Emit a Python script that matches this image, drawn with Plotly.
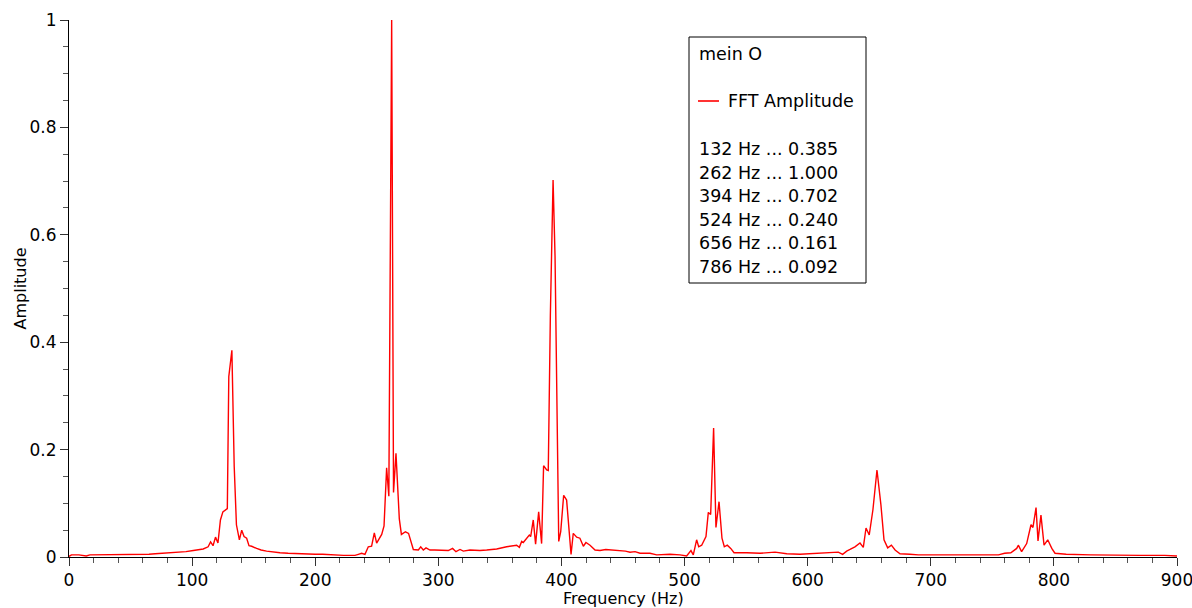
import plotly.graph_objects as go

# ---- data ----
freq_hz = [0, 2, 8, 14, 17, 30, 40, 50, 55, 58, 65, 70, 77, 85, 90, 95, 101, 105, 109, 113,
           115, 117, 119, 121, 123, 125, 127.5, 128.6, 129.8, 132.3, 134.2, 136, 138.4, 140.3,
           142.2, 144.3, 146.2, 148.4, 152.4, 156, 160.5, 166, 171.4, 178, 185, 192, 200, 206,
           212, 218, 223, 228, 232.3, 235, 237.7, 240.4, 243.1, 245.8, 248, 249.9, 252, 254,
           255.9, 258, 259.8, 262.1, 263.6, 265.6, 268.3, 270, 273.3, 275.8, 279.7, 283.8,
           285.7, 287.8, 290, 293.2, 297, 301.4, 308.1, 311.6, 314.3, 317.6, 320.3, 325.7,
           333.8, 339.3, 347.4, 355.5, 360.9, 363.6, 365.8, 367.7, 369, 371.8, 373.9, 375,
           377.1, 379, 381.5, 383.9, 385.5, 388, 389.3, 391, 393.2, 394.8, 396.1, 397.8, 399.4,
           401.8, 404.2, 405.9, 407.8, 409.6, 412.4, 415, 417.8, 419.9, 423.2, 427.3, 431.3,
           436, 442.1, 447.6, 452, 455.7, 459.8, 463.8, 471.9, 477.4, 483, 488.2, 496.3, 501.7,
           505.2, 507.1, 509.8, 511.5, 513.9, 517.4, 519.3, 521.2, 523.6, 525.5, 528, 530.4,
           532.3, 534.7, 537.5, 540.2, 550.5, 561.3, 573.5, 583, 593.8, 602, 615.5, 624.9,
           628.4, 631.7, 634.4, 638.4, 642.5, 645.2, 647.4, 650, 653, 656.3, 659.5, 662, 665,
           668, 671, 675, 683, 690, 700, 720, 740, 755, 760, 765, 769.8, 771.1, 773.8, 777.9,
           781.4, 783, 785.5, 787.1, 789.5, 792, 795, 798.3, 800.9, 810, 830, 850, 870, 890, 900]

amplitude = [0.001, 0.004, 0.004, 0.002, 0.004, 0.004, 0.004, 0.005, 0.004, 0.005, 0.005, 0.006,
             0.007, 0.008, 0.009, 0.010, 0.012, 0.013, 0.015, 0.019, 0.028, 0.021, 0.037, 0.026,
             0.069, 0.084, 0.089, 0.090, 0.336, 0.385, 0.168, 0.060, 0.032, 0.050, 0.038, 0.035,
             0.021, 0.020, 0.016, 0.013, 0.011, 0.009, 0.008, 0.007, 0.006, 0.006, 0.005, 0.005,
             0.004, 0.004, 0.003, 0.003, 0.003, 0.005, 0.007, 0.005, 0.019, 0.020, 0.045, 0.026,
             0.033, 0.042, 0.058, 0.166, 0.113, 1.000, 0.120, 0.193, 0.071, 0.042, 0.047, 0.044,
             0.014, 0.013, 0.019, 0.013, 0.017, 0.013, 0.013, 0.013, 0.012, 0.016, 0.010, 0.014,
             0.011, 0.013, 0.012, 0.013, 0.015, 0.019, 0.021, 0.022, 0.018, 0.029, 0.027, 0.035,
             0.041, 0.038, 0.069, 0.024, 0.084, 0.025, 0.170, 0.162, 0.161, 0.450, 0.702, 0.560,
             0.300, 0.029, 0.047, 0.115, 0.106, 0.056, 0.005, 0.044, 0.037, 0.035, 0.020, 0.027,
             0.022, 0.013, 0.012, 0.014, 0.013, 0.013, 0.011, 0.009, 0.010, 0.007, 0.007, 0.004,
             0.005, 0.005, 0.004, 0.002, 0.012, 0.004, 0.032, 0.019, 0.022, 0.038, 0.083, 0.079,
             0.240, 0.055, 0.103, 0.035, 0.019, 0.022, 0.016, 0.008, 0.008, 0.007, 0.009, 0.006,
             0.005, 0.006, 0.007, 0.009, 0.005, 0.011, 0.014, 0.019, 0.026, 0.018, 0.054, 0.041,
             0.088, 0.162, 0.097, 0.032, 0.017, 0.022, 0.013, 0.006, 0.005, 0.004, 0.004, 0.004,
             0.004, 0.004, 0.007, 0.008, 0.016, 0.022, 0.010, 0.025, 0.060, 0.055, 0.092, 0.030,
             0.078, 0.022, 0.032, 0.016, 0.007, 0.005, 0.004, 0.003, 0.003, 0.003, 0.002]

peak_freqs = [132, 262, 394, 524, 656, 786]
peak_amps = [0.385, 1.000, 0.702, 0.240, 0.161, 0.092]

legend_title = "mein O"
series_name = "FFT Amplitude"
x_title = "Frequency (Hz)"
y_title = "Amplitude"

# ---- layout geometry (pixels) ----
W, H = 1192, 608
ML, MR, MT, MB = 69, 15, 20, 51
PW, PH = W - ML - MR, H - MT - MB
FONT = "DejaVu Sans"


def px_x(px):
    return (px - ML) / PW


def px_y(py):
    return (H - MB - py) / PH


fig = go.Figure()
fig.add_trace(go.Scatter(x=freq_hz, y=amplitude, mode="lines", name=series_name,
                         line=dict(color="#ff0000", width=1.4), showlegend=False))

axis_common = dict(showline=True, linecolor="black", linewidth=1, ticks="outside",
                   ticklen=8, tickcolor="#333333", tickwidth=1, showgrid=False,
                   zeroline=False, mirror=False, automargin=False,
                   ticklabeloverflow="allow",
                   tickfont=dict(family=FONT, size=17, color="black"))

fig.update_xaxes(range=[0, 900], dtick=100, tick0=0,
                 minor=dict(dtick=20, ticks="outside", ticklen=5, tickcolor="#555555"),
                 **axis_common)
fig.update_yaxes(range=[0, 1], dtick=0.2, tick0=0,
                 minor=dict(dtick=0.05, ticks="outside", ticklen=5, tickcolor="#555555"),
                 **axis_common)

# legend box drawn manually
shapes = [dict(type="rect", xref="paper", yref="paper",
               x0=px_x(689), x1=px_x(866), y0=px_y(283), y1=px_y(37),
               line=dict(color="black", width=1), fillcolor="white", layer="below"),
          dict(type="line", xref="paper", yref="paper",
               x0=px_x(698), x1=px_x(719), y0=px_y(101), y1=px_y(101),
               line=dict(color="#ff0000", width=1.6))]

txt_font = dict(family=FONT, size=17.5, color="black")
annotations = [dict(text=legend_title, xref="paper", yref="paper", x=px_x(697), y=px_y(54),
                    xanchor="left", yanchor="middle", showarrow=False, font=txt_font),
               dict(text=series_name, xref="paper", yref="paper", x=px_x(726), y=px_y(101),
                    xanchor="left", yanchor="middle", showarrow=False, font=txt_font),
               dict(text=x_title, xref="paper", yref="paper", x=0.5, y=px_y(598),
                    xanchor="center", yanchor="middle", showarrow=False,
                    font=dict(family=FONT, size=16, color="black")),
               dict(text=y_title, xref="paper", yref="paper", x=px_x(20), y=0.5,
                    xanchor="center", yanchor="middle", showarrow=False, textangle=-90,
                    font=dict(family=FONT, size=16, color="black"))]
for i, (f, a) in enumerate(zip(peak_freqs, peak_amps)):
    annotations.append(dict(text=f"{f} Hz ... {a:.3f}", xref="paper", yref="paper",
                            x=px_x(697), y=px_y(149 + i * 23.6),
                            xanchor="left", yanchor="middle", showarrow=False, font=txt_font))

fig.update_layout(width=W, height=H, margin=dict(l=ML, r=MR, t=MT, b=MB),
                  plot_bgcolor="white", paper_bgcolor="white",
                  shapes=shapes, annotations=annotations, showlegend=False)

fig.write_html("out.html", config={"displayModeBar": False},
               post_script="document.body.style.margin='0';document.body.style.overflow='hidden';")
